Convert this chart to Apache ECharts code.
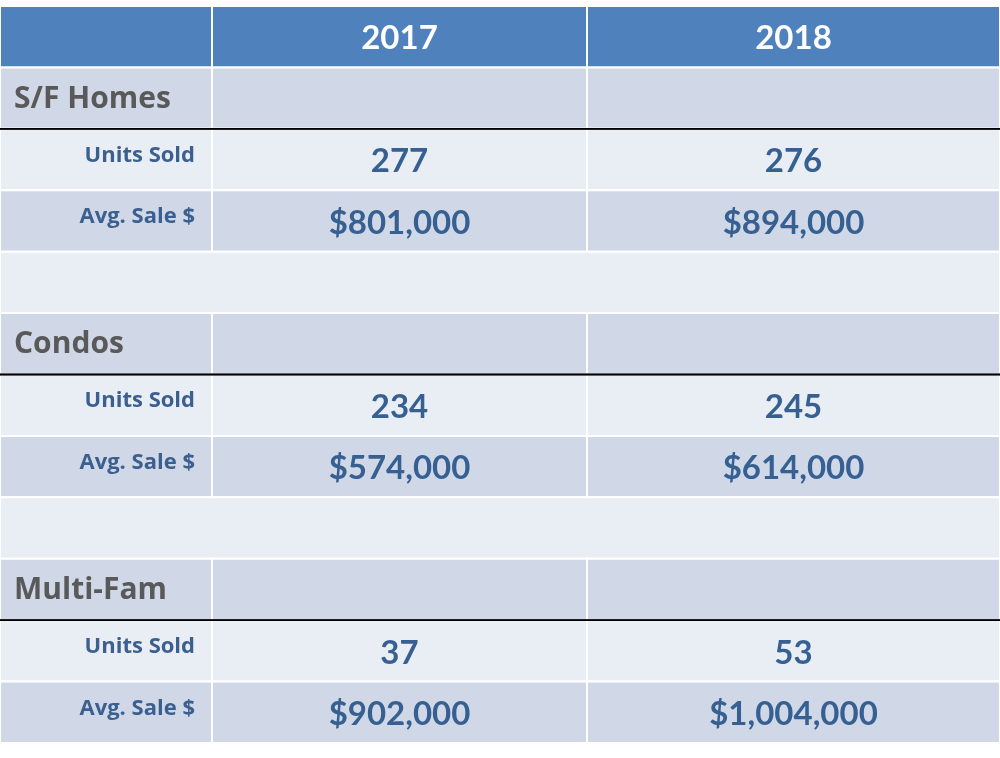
<!DOCTYPE html>
<html>
<head>
<meta charset="utf-8">
<script src="https://cdn.jsdelivr.net/npm/echarts@6/dist/echarts.min.js"></script>
<style>html,body{margin:0;padding:0;background:#fff}#chart{width:1000px;height:758px}</style>
</head>
<body>
<div id="chart"></div>
<script>
var years = ['2017', '2018']
var categories = ['S/F Homes', 'Condos', 'Multi-Fam']
var metrics = ['Units Sold', 'Avg. Sale $']
var units2017 = ['277', '234', '37']
var units2018 = ['276', '245', '53']
var avg2017 = ['$801,000', '$574,000', '$902,000']
var avg2018 = ['$894,000', '$614,000', '$1,004,000']

// column edges in x-axis units
var colEdges = [0, 212, 587, 1000]

var rows = []
rows.push({ kind: 'header', cells: ['', years[0], years[1]] })
categories.forEach(function (c, i) {
  if (i > 0) rows.push({ kind: 'blank', cells: ['', '', ''] })
  rows.push({ kind: 'cat', cells: [c, '', ''] })
  rows.push({ kind: 'metric', cells: [metrics[0], units2017[i], units2018[i]] })
  rows.push({ kind: 'metric', cells: [metrics[1], avg2017[i], avg2018[i]] })
})

var data = []
rows.forEach(function (r, ri) {
  var full = r.kind === 'blank'
  for (var ci = 0; ci < 3; ci++) {
    if (full && ci > 0) continue
    data.push([full ? 0 : colEdges[ci], full ? 1000 : colEdges[ci + 1], ri, r.cells[ci], r.kind, ci])
  }
})

function renderItem(params, api) {
  var x0 = api.value(0), x1 = api.value(1), ri = api.value(2)
  var kind = api.value(4), ci = api.value(5), txt = api.value(3)
  var p0 = api.coord([x0, ri]), p1 = api.coord([x1, ri])
  var h = api.size([0, 1])[1]
  var top = p0[1] - h / 2
  var fill = kind === 'header' ? '#4f81bd' : (ri % 2 === 1 ? '#d0d8e8' : '#e9edf4')
  var children = [{
    type: 'rect',
    shape: { x: p0[0], y: top, width: p1[0] - p0[0], height: h },
    style: { fill: fill, stroke: '#ffffff', lineWidth: 2 }
  }]
  if (kind === 'cat') {
    children.push({ type: 'line', shape: { x1: 0, y1: top + h, x2: 1000, y2: top + h }, style: { stroke: '#000', lineWidth: 1.5 }, z2: 5 })
  }
  var st = null
  if (kind === 'header' && txt) {
    st = { x: (p0[0] + p1[0]) / 2, y: p0[1] + 2, text: txt, fill: '#fff', font: 'bold 33px Lato', align: 'center', verticalAlign: 'middle' }
  } else if (kind === 'cat' && ci === 0) {
    st = { x: p0[0] + 14, y: p0[1] + 1, text: txt, fill: '#595959', font: 'bold 30px "Open Sans"', align: 'left', verticalAlign: 'middle',
      shadowColor: 'rgba(0,0,0,0.35)', shadowBlur: 2, shadowOffsetX: 1.5, shadowOffsetY: 1.5 }
  } else if (kind === 'metric') {
    if (ci === 0) st = { x: p1[0] - 17, y: p0[1] - 4, text: txt, fill: '#3b5f8f', font: 'bold 22px "Open Sans"', align: 'right', verticalAlign: 'middle' }
    else st = { x: (p0[0] + p1[0]) / 2, y: p0[1] + 2, text: txt, fill: '#376092', font: 'bold 33px Lato', align: 'center', verticalAlign: 'middle' }
  }
  if (st) children.push({ type: 'text', style: st, z2: 10 })
  return { type: 'group', children: children }
}

var chart = echarts.init(document.getElementById('chart'))
chart.setOption({
  animation: false,
  grid: { left: 0, right: 0, top: 6, bottom: 15 },
  xAxis: { type: 'value', min: 0, max: 1000, show: false },
  yAxis: { type: 'category', inverse: true, data: rows.map(function (r, i) { return i }), show: false },
  series: [{ type: 'custom', renderItem: renderItem, data: data, encode: { x: [0, 1], y: 2 } }]
})
</script>
</body>
</html>
